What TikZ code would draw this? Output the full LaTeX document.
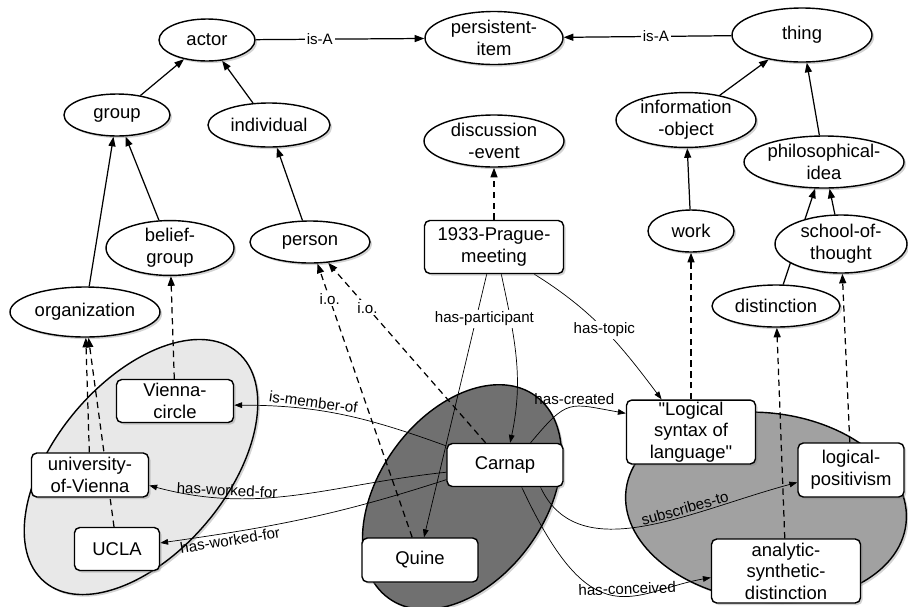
\documentclass[tikz,border=0pt]{standalone}
\usepackage{fontspec}
\setmainfont{Liberation Sans}
\usetikzlibrary{arrows.meta,shapes.geometric,shadows}

\pgfdeclarelayer{blobs}
\pgfdeclarelayer{links}
\pgfsetlayers{blobs,links,main}

\tikzset{
	soft/.style={drop shadow={shadow xshift=1.2pt,shadow yshift=-1.2pt,opacity=0.35}},
	concept/.style={ellipse,draw,line width=0.8pt,fill=white,soft,inner sep=0pt,align=center,font=\fontsize{10.5}{12.3}\selectfont},
	thingbox/.style={rectangle,rounded corners=3pt,draw,line width=0.8pt,fill=white,soft,inner sep=1pt,align=center,font=\fontsize{10.5}{12.3}\selectfont},
	isa/.style={line width=0.7pt,-{Triangle[length=5.5pt,width=4pt]}},
	io/.style={isa,dash pattern=on 3.6pt off 2.6pt},
	rel/.style={line width=0.4pt,-{Triangle[length=4.5pt,width=3.2pt]}},
	lbl/.style={font=\fontsize{8.6}{10}\selectfont,inner sep=1pt},
	wlbl/.style={lbl,fill=white},
}

\begin{document}
\begin{tikzpicture}[x=0.02cm,y=0.02cm]
		%%%%% START %%%%%
		\useasboundingbox (0,0) rectangle (908,-606);
		
		% classes
		\node[concept,minimum width=1.92cm,minimum height=0.84cm] (actor) at (207,-40) {actor};
		\node[concept,minimum width=2.76cm,minimum height=1.06cm] (persist) at (494,-38) {persistent-\\item};
		\node[concept,minimum width=2.8cm,minimum height=1.08cm] (thing) at (802,-35) {thing};
		\node[concept,minimum width=2.12cm,minimum height=0.84cm] (group) at (117,-115) {group};
		\node[concept,minimum width=2.44cm,minimum height=0.88cm] (individual) at (269,-125) {individual};
		\node[concept,minimum width=2.8cm,minimum height=1.08cm] (infoobj) at (686,-120) {information\\-object};
		\node[concept,minimum width=2.8cm,minimum height=1.04cm] (discuss) at (494,-141) {discussion\\-event};
		\node[concept,minimum width=3.2cm,minimum height=1.04cm] (phil) at (824,-162) {philosophical-\\idea};
		\node[concept,minimum width=2.56cm,minimum height=1.04cm] (belief) at (170,-248) {belief-\\group};
		\node[concept,minimum width=2.4cm,minimum height=0.84cm] (person) at (310,-242) {person};
		\node[concept,minimum width=3.0cm,minimum height=1.0cm] (org) at (85,-312) {organization};
		\node[concept,minimum width=1.72cm,minimum height=0.84cm] (work) at (691,-231) {work};
		\node[concept,minimum width=2.64cm,minimum height=1.16cm] (school) at (841,-244) {school-of-\\thought};
		\node[concept,minimum width=2.56cm,minimum height=0.84cm] (distinction) at (776,-306) {distinction};
		
		% instances
		\node[thingbox,minimum width=2.78cm,minimum height=1.06cm] (meeting) at (494,-247) {1933-Prague-\\meeting};
		\node[thingbox,minimum width=2.34cm,minimum height=0.86cm] (vienna) at (175,-401) {Vienna-\\circle};
		\node[thingbox,minimum width=2.34cm,minimum height=0.88cm] (univ) at (90,-475) {university-\\of-Vienna};
		\node[thingbox,minimum width=1.7cm,minimum height=0.86cm] (ucla) at (117,-549) {UCLA};
		\node[thingbox,minimum width=2.32cm,minimum height=0.88cm] (quine) at (420,-560) {Quine};
		\node[thingbox,minimum width=2.32cm,minimum height=0.86cm] (carnap) at (505,-465) {Carnap};
		\node[thingbox,minimum width=2.58cm,minimum height=1.26cm] (logical) at (691,-432) {\textquotedbl Logical\\syntax of\\language\textquotedbl};
		\node[thingbox,minimum width=2.12cm,minimum height=1.08cm] (logpos) at (851,-470) {logical-\\positivism};
		\node[thingbox,minimum width=2.98cm,minimum height=1.28cm] (analytic) at (786,-571) {analytic-\\synthetic-\\distinction};
		
		% grey groups
		\begin{pgfonlayer}{blobs}
		\draw[line width=0.8pt,fill=black!9,soft,rotate around={50:(141,-467)}] (141,-467) ellipse (150 and 86);
		\draw[line width=0.8pt,fill=black!56,soft,rotate around={54:(462,-497)}] (462,-497) ellipse (125 and 83);
		\draw[line width=0.8pt,fill=black!37,soft,rotate around={-7:(766,-507)}] (766,-507) ellipse (141 and 94);
		\end{pgfonlayer}
		
		\begin{pgfonlayer}{links}
		% is-A
		\draw[isa] (actor) -- node[wlbl,pos=0.38]{is-A} (persist);
		\draw[isa] (thing) -- node[wlbl,pos=0.45]{is-A} (persist);
		\draw[isa] (group) -- (actor);
		\draw[isa] (individual) -- (actor);
		\draw[isa] (org) -- (group);
		\draw[isa] (belief) -- (group);
		\draw[isa] (person) -- (individual);
		\draw[isa] (infoobj) -- (thing);
		\draw[isa] (phil) -- (thing);
		\draw[isa] (school) -- (phil);
		\draw[isa] (distinction) -- (phil);
		\draw[isa] (work) -- (infoobj);
		
		% instance of
		\draw[io] (meeting) -- (discuss);
		\draw[io] (vienna) -- (belief);
		\draw[io] (univ) -- (org);
		\draw[io] (ucla) -- (org);
		\draw[io] (quine) -- node[wlbl,pos=0.87]{i.o.} (person);
		\draw[io] (carnap) -- node[wlbl,pos=0.75]{i.o.} (person);
		\draw[io] (logical) -- (work);
		\draw[io] (analytic) -- (distinction);
		\draw[io] (logpos) -- (school);
		
		% relations
		\draw[rel] (meeting.255) -- (quine.80);
		\draw[rel] (meeting.285) to[out=-78,in=78] node[wlbl,pos=0.25,xshift=-0.52cm]{has-participant} (carnap.77);
		\draw[rel] (meeting.326) to[out=-32,in=127] node[wlbl]{has-topic} (logical.132);
		\draw[rel] (carnap.41) to[out=50,in=170,looseness=1.5] node[lbl,above,pos=0.55]{has-created} (logical.164);
		\draw[rel] (carnap.162) to[out=160,in=0] node[lbl,above,sloped,pos=0.65]{is-member-of} (vienna.-4);
		\draw[rel] (carnap.187) to[out=186,in=-15] node[lbl,above,sloped,pos=0.75]{has-worked-for} (univ.-10);
		\draw[rel] (carnap.194) to[out=198,in=8] node[lbl,below,sloped,pos=0.78]{has-worked-for} (ucla.8);
		\draw[rel] (carnap.-32) .. controls +(-65:90) and +(195:110) .. node[lbl,above,sloped,pos=0.65]{subscribes-to} (logpos.193);
		\draw[rel] (carnap.-53) .. controls +(-65:170) and +(190:80) .. node[lbl,above,sloped,pos=0.58]{has-conceived} (analytic.185);
		\end{pgfonlayer}
		
		%%%%% END %%%%%
\end{tikzpicture}
\end{document}
